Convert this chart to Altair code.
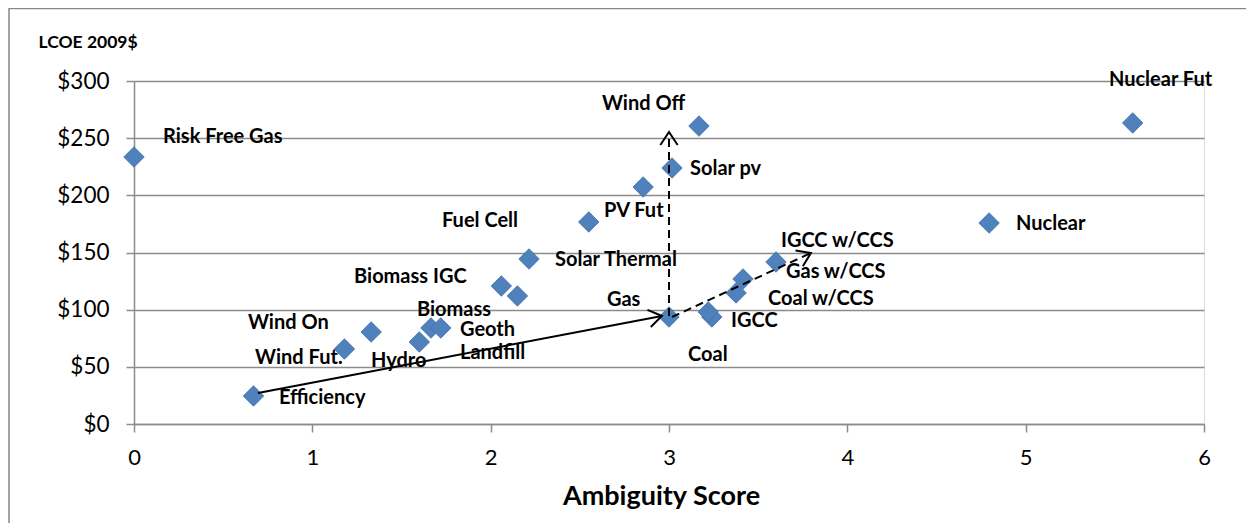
import altair as alt
import pandas as pd

# ---- data ----
names = ["Risk Free Gas", "Efficiency", "Wind Fut.", "Wind On", "Hydro", "Biomass",
         "Geoth", "Biomass IGC", "Landfill", "Solar Thermal", "Fuel Cell", "PV Fut",
         "Solar pv", "Wind Off", "Gas", "Coal", "IGCC", "Coal w/CCS", "Gas w/CCS",
         "IGCC w/CCS", "Nuclear", "Nuclear Fut"]
ambiguity = [0.0, 0.67, 1.18, 1.33, 1.60, 1.665, 1.72, 2.06, 2.15, 2.215, 2.55, 2.855,
             3.017, 3.168, 3.0, 3.24, 3.22, 3.376, 3.415, 3.60, 4.795, 5.60]
lcoe = [233.5, 24.5, 65.6, 80.5, 71.7, 84.0, 84.0, 120.7, 112.0, 144.3, 176.7, 207.3,
        223.9, 260.6, 93.6, 93.6, 98.0, 114.6, 126.8, 141.7, 175.8, 263.3]

# label anchor positions (left edge, vertical middle) in data units
label_x = [0.163, 0.813, 0.679, 0.639, 1.329, 1.587, 1.828, 1.234, 1.828, 2.361, 1.727,
           2.636, 3.118, 2.624, 2.652, 3.107, 3.348, 3.555, 3.656, 3.628, 4.946, 5.467]
label_y = [251.0, 22.7, 57.7, 88.3, 55.1, 99.7, 82.0, 128.6, 62.3, 143.4, 177.6, 186.3,
           223.0, 279.9, 108.5, 60.4, 90.1, 109.3, 132.9, 160.1, 174.9, 300.9]

# road-map arrows
arrow_id = ["solid", "solid", "up", "up", "diag", "diag"]
arrow_x = [0.695, 2.96, 3.0, 3.0, 3.017, 3.796]
arrow_y = [27.1, 94.5, 94.5, 255.4, 93.6, 149.6]
arrow_dash = [False, False, True, True, True, True]
head_angle = {"solid": 79, "up": 0, "diag": 65}

x_ticks = [0, 1, 2, 3, 4, 5, 6]
y_ticks = [0, 50, 100, 150, 200, 250, 300]

FONT = "Lato"
W, H = 1070, 343

pts = pd.DataFrame({"name": names, "x": ambiguity, "y": lcoe})
lbl = pd.DataFrame({"name": names, "x": label_x, "y": label_y})
arr = pd.DataFrame({"id": arrow_id, "x": arrow_x, "y": arrow_y, "dash": arrow_dash})
heads = arr.groupby("id", sort=False).tail(1).copy()
heads["angle"] = heads["id"].map(head_angle)

xs = alt.Scale(domain=[0, 6], nice=False, zero=False)
ys = alt.Scale(domain=[0, 300], nice=False)

xenc = alt.X("x:Q", scale=xs, axis=alt.Axis(
    values=x_ticks, format="d", title="Ambiguity Score", grid=False, labelFlush=False,
    domainColor="#8c8c8c", domainWidth=1.5, tickColor="#8c8c8c", tickWidth=1.5,
    tickSize=8, labelFont=FONT, labelFontSize=22, labelColor="#000",
    labelPadding=15, titleFont=FONT, titleFontSize=27, titleFontWeight="bold",
    titleColor="#000", titleX=527, titleAlign="center", titleY=72,
    titleBaseline="middle"))
yenc = alt.Y("y:Q", scale=ys, axis=alt.Axis(
    values=y_ticks, title="LCOE 2009$", labelExpr="'$' + datum.value",
    grid=True, gridColor="#8c8c8c", gridWidth=1.5, labelFlush=False,
    domainColor="#8c8c8c", domainWidth=1.5, tickColor="#8c8c8c", tickWidth=1.5,
    tickSize=8, labelFont=FONT, labelFontSize=22.5, labelColor="#000",
    labelPadding=17, titleFont=FONT, titleFontSize=17.5, titleFontWeight="bold",
    titleColor="#000", titleAngle=0, titleAlign="left", titleBaseline="middle",
    titleX=-96, titleY=-39))

border = alt.Chart(pd.DataFrame({"a": [0]})).mark_rect(
    fillOpacity=0, stroke="#878787", strokeWidth=1.5
).encode(x=alt.value(-125), x2=alt.value(W + 200), y=alt.value(-72.5), y2=alt.value(H + 300))

points = alt.Chart(pts).mark_point(
    shape="diamond", filled=True, size=420, color="#4F81BD", opacity=1,
    stroke="#3f6fa8", strokeWidth=0.8
).encode(x=xenc, y=yenc)

solid = alt.Chart(arr[~arr["dash"]]).mark_line(color="black", strokeWidth=2).encode(
    x=alt.X("x:Q", scale=xs), y=alt.Y("y:Q", scale=ys), detail="id:N")
dashed = alt.Chart(arr[arr["dash"]]).mark_line(
    color="black", strokeWidth=2, strokeDash=[8, 5]
).encode(x=alt.X("x:Q", scale=xs), y=alt.Y("y:Q", scale=ys), detail="id:N")

arrowheads = alt.Chart(heads).mark_point(
    shape="M-1,1.5L0,0L1,1.5", filled=False, size=300, stroke="black",
    strokeWidth=2, opacity=1
).encode(x=alt.X("x:Q", scale=xs), y=alt.Y("y:Q", scale=ys),
         angle=alt.Angle("angle:Q", scale=None))

labels = alt.Chart(lbl).mark_text(
    align="left", baseline="middle", font=FONT, fontSize=20, fontWeight="bold",
    color="#000"
).encode(x=alt.X("x:Q", scale=xs), y=alt.Y("y:Q", scale=ys), text="name:N")

chart = alt.layer(border, points, solid, dashed, arrowheads, labels).properties(
    width=W, height=H,
    autosize=alt.AutoSizeParams(type="none"),
    padding={"left": 126, "top": 73, "right": 42, "bottom": 99},
).configure_view(stroke=None).configure(background="white")

chart.save("out.html", embed_options={"renderer": "svg", "actions": False})
